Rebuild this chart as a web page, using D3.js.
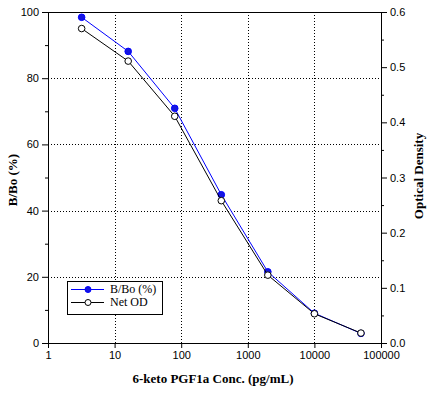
<!DOCTYPE html>
<html>
<head>
  <style>
    body { margin: 0; background: #fff; }
    .grid line { stroke: #000; stroke-dasharray: 1,2; stroke-width: 1; }
    .tick text { font-family: "Liberation Sans", "DejaVu Sans", sans-serif; font-size: 11px; fill: #000; }
    .title { font-family: "Liberation Serif", serif; font-weight: bold; font-size: 13px; fill: #000; }
    .legend text { font-family: "Liberation Serif", serif; font-size: 12px; fill: #000; }
  </style>
  <script src="https://d3js.org/d3.v7.min.js"></script>
</head>
<body>
  <div id="chart"></div>
  <script>
    const conc = [3.2, 16, 80, 400, 2000, 10000, 50000];
    const bbo = [98.4, 88.1, 70.9, 44.8, 21.5, 9.0, 2.9];
    const netOD = [0.570, 0.511, 0.411, 0.258, 0.123, 0.053, 0.018];
    const xTicks = [1, 10, 100, 1000, 10000, 100000];
    const yTicks = [0, 20, 40, 60, 80, 100];
    const yMinor = [10, 30, 50, 70, 90];
    const odTicks = [0, 0.1, 0.2, 0.3, 0.4, 0.5, 0.6];
    const odMinor = [0.05, 0.15, 0.25, 0.35, 0.45, 0.55];

    const width = 429, height = 397;
    const margin = { top: 12, right: 48, bottom: 54, left: 48 };
    const w = width - margin.left - margin.right;
    const h = height - margin.top - margin.bottom;

    const svg = d3.select("#chart").append("svg")
      .attr("width", width).attr("height", height);
    const g = svg.append("g").attr("transform", `translate(${margin.left},${margin.top})`);

    const x = d3.scaleLog().domain([1, 100000]).range([0, w]);
    const y = d3.scaleLinear().domain([0, 100]).range([h, 0]);
    const y2 = d3.scaleLinear().domain([0, 0.6]).range([h, 0]);

    // grid
    const grid = g.append("g").attr("class", "grid");
    grid.selectAll(".gx").data(xTicks.slice(1, -1)).enter().append("line")
      .attr("x1", d => Math.round(x(d)) + 0.5).attr("x2", d => Math.round(x(d)) + 0.5)
      .attr("y1", 0).attr("y2", h);
    grid.selectAll(".gy").data(yTicks.slice(1, -1)).enter().append("line")
      .attr("y1", d => Math.round(y(d)) + 0.5).attr("y2", d => Math.round(y(d)) + 0.5)
      .attr("x1", 0).attr("x2", w);

    // frame
    g.append("rect").attr("x", 0.5).attr("y", 0.5).attr("width", w).attr("height", h)
      .attr("fill", "none").attr("stroke", "#000").attr("stroke-width", 1);

    // axes
    g.append("g").attr("transform", `translate(0,${h})`)
      .call(d3.axisBottom(x).tickValues(xTicks).tickFormat(d3.format("d")).tickSize(5).tickPadding(3));
    g.append("g")
      .call(d3.axisLeft(y).tickValues(yTicks).tickSize(6).tickPadding(3));
    g.append("g").call(d3.axisLeft(y).tickValues(yMinor).tickSize(3).tickFormat(""));
    g.append("g").attr("transform", `translate(${w},0)`)
      .call(d3.axisRight(y2).tickValues(odTicks).tickFormat(d3.format(".1f")).tickSize(6).tickPadding(3));
    g.append("g").attr("transform", `translate(${w},0)`)
      .call(d3.axisRight(y2).tickValues(odMinor).tickSize(3).tickFormat(""));
    g.selectAll(".domain").remove();
    g.selectAll(".tick line").attr("stroke", "#000");

    // series
    const pts1 = conc.map((c, i) => [x(c), y(bbo[i])]);
    const pts2 = conc.map((c, i) => [x(c), y2(netOD[i])]);
    const line = d3.line();

    g.append("path").attr("d", line(pts1)).attr("fill", "none").attr("stroke", "#0000ff").attr("stroke-width", 1);
    g.selectAll(".p1").data(pts1).enter().append("circle")
      .attr("cx", d => d[0]).attr("cy", d => d[1]).attr("r", 3.3)
      .attr("fill", "#1515e0").attr("stroke", "#0000ff");

    g.append("path").attr("d", line(pts2)).attr("fill", "none").attr("stroke", "#000").attr("stroke-width", 1);
    g.selectAll(".p2").data(pts2).enter().append("circle")
      .attr("cx", d => d[0]).attr("cy", d => d[1]).attr("r", 3.3)
      .attr("fill", "#fff").attr("stroke", "#000");

    // titles
    svg.append("text").attr("class", "title").attr("x", 213).attr("y", 383)
      .attr("text-anchor", "middle").text("6-keto PGF1a Conc. (pg/mL)");
    svg.append("text").attr("class", "title")
      .attr("transform", `translate(17,180) rotate(-90)`)
      .attr("text-anchor", "middle").text("B/Bo (%)");
    svg.append("text").attr("class", "title")
      .attr("transform", `translate(423,176) rotate(-90)`)
      .attr("text-anchor", "middle").text("Optical Density");

    // legend
    const lg = svg.append("g").attr("class", "legend");
    lg.append("rect").attr("x", 67.5).attr("y", 281.5).attr("width", 95).attr("height", 33)
      .attr("fill", "#fff").attr("stroke", "#000");
    const items = [
      { label: "B/Bo (%)", stroke: "#0000ff", fill: "#1515e0" },
      { label: "Net OD", stroke: "#000", fill: "#fff" }
    ];
    items.forEach((it, i) => {
      const yy = 289 + i * 13;
      lg.append("line").attr("x1", 71).attr("x2", 104).attr("y1", yy + 0.5).attr("y2", yy + 0.5)
        .attr("stroke", it.stroke);
      lg.append("circle").attr("cx", 88).attr("cy", yy + 0.5).attr("r", 3)
        .attr("fill", it.fill).attr("stroke", it.stroke);
      lg.append("text").attr("x", 110).attr("y", yy + 4).text(it.label);
    });
  </script>
</body>
</html>
